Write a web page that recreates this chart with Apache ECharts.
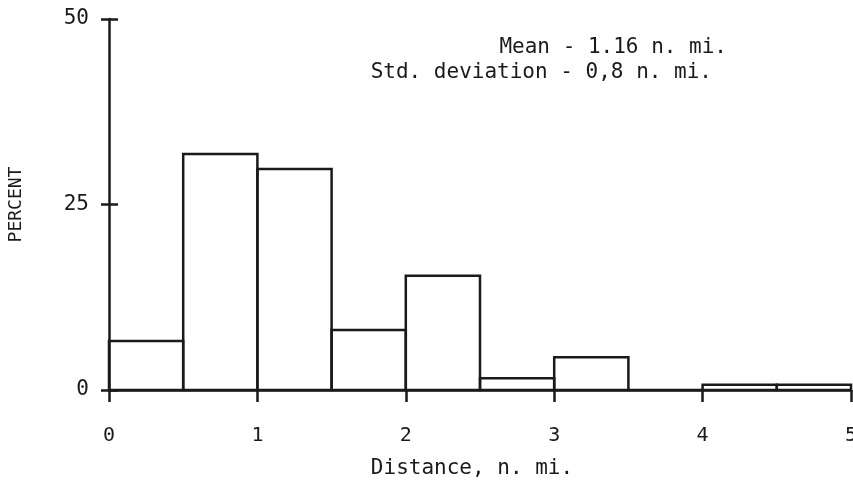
<!DOCTYPE html>
<html>
<head>
<meta charset="utf-8">
<script src="https://cdn.jsdelivr.net/npm/echarts@6/dist/echarts.min.js"></script>
<style>
html,body{margin:0;padding:0;background:#fff;}
#chart{width:853px;height:488px;}
</style>
</head>
<body>
<div id="chart"></div>
<script>
// Histogram bins (n. mi.) and percent of observations
const binStart = [0, 0.5, 1, 1.5, 2, 2.5, 3, 3.5, 4, 4.5];
const binEnd   = [0.5, 1, 1.5, 2, 2.5, 3, 3.5, 4, 4.5, 5];
const percent  = [6.6, 31.8, 29.8, 8.1, 15.4, 1.6, 4.4, 0, 0.7, 0.7];
const xTicks = [0, 1, 2, 3, 4, 5];
const yTicks = [0, 25, 50];
const statLines = ['Mean - 1.16 n. mi.', 'Std. deviation - 0,8 n. mi.'];

const ink = '#1a1a1a';
const font = 'DejaVu Sans Mono';

const data = binStart.map((s, i) => [s, binEnd[i], percent[i]]);

const chart = echarts.init(document.getElementById('chart'));
chart.setOption({
  backgroundColor: '#fff',
  animation: false,
  grid: { left: 109, right: 2, top: 19, bottom: 98, containLabel: false, outerBoundsMode: 'none' },
  xAxis: {
    type: 'value', min: 0, max: 5, interval: 1,
    name: 'Distance, n. mi.', nameLocation: 'middle', nameGap: 68,
    nameTextStyle: { fontFamily: font, fontSize: 21, color: ink, padding: [0, 16, 0, 0] },
    axisLine: { show: true, onZero: false, lineStyle: { color: ink, width: 2.5 } },
    axisTick: { show: true, inside: false, length: 12, lineStyle: { color: ink, width: 2.5 } },
    axisLabel: { margin: 36, fontFamily: font, fontSize: 20, color: ink,
      formatter: v => xTicks.includes(v) ? String(v) : '' },
    splitLine: { show: false }
  },
  yAxis: [{
    type: 'value', min: 0, max: 50, interval: 25,
    name: 'PERCENT', nameLocation: 'middle', nameGap: 84, nameRotate: 90,
    nameTextStyle: { fontFamily: font, fontSize: 18, color: ink },
    axisLine: { show: true, lineStyle: { color: ink, width: 2.5 } },
    axisTick: { show: true, inside: false, length: 8, lineStyle: { color: ink, width: 2.5 } },
    axisLabel: { margin: 20, fontFamily: font, fontSize: 21, color: ink,
      formatter: v => yTicks.includes(v) ? String(v) : '' },
    splitLine: { show: false }
  }, {
    type: 'value', min: 0, max: 50, interval: 25, position: 'left',
    axisLine: { show: false },
    axisTick: { show: true, inside: true, length: 9, lineStyle: { color: ink, width: 2.5 } },
    axisLabel: { show: false },
    splitLine: { show: false }
  }],
  graphic: [
    { type: 'text', right: 853 - 727, top: 37,
      style: { text: statLines[0], font: '21px "DejaVu Sans Mono"', fill: ink, textAlign: 'right' } },
    { type: 'text', right: 853 - 712, top: 62,
      style: { text: statLines[1], font: '21px "DejaVu Sans Mono"', fill: ink, textAlign: 'right' } }
  ],
  series: [{
    type: 'custom',
    data: data,
    encode: { x: [0, 1], y: 2 },
    renderItem: function (params, api) {
      const p0 = api.coord([api.value(0), 0]);
      const p1 = api.coord([api.value(1), api.value(2)]);
      return {
        type: 'rect',
        shape: { x: p0[0], y: p1[1], width: p1[0] - p0[0], height: p0[1] - p1[1] },
        style: { fill: 'rgba(255,255,255,0)', stroke: ink, lineWidth: 2.5 }
      };
    }
  }]
});
</script>
</body>
</html>
